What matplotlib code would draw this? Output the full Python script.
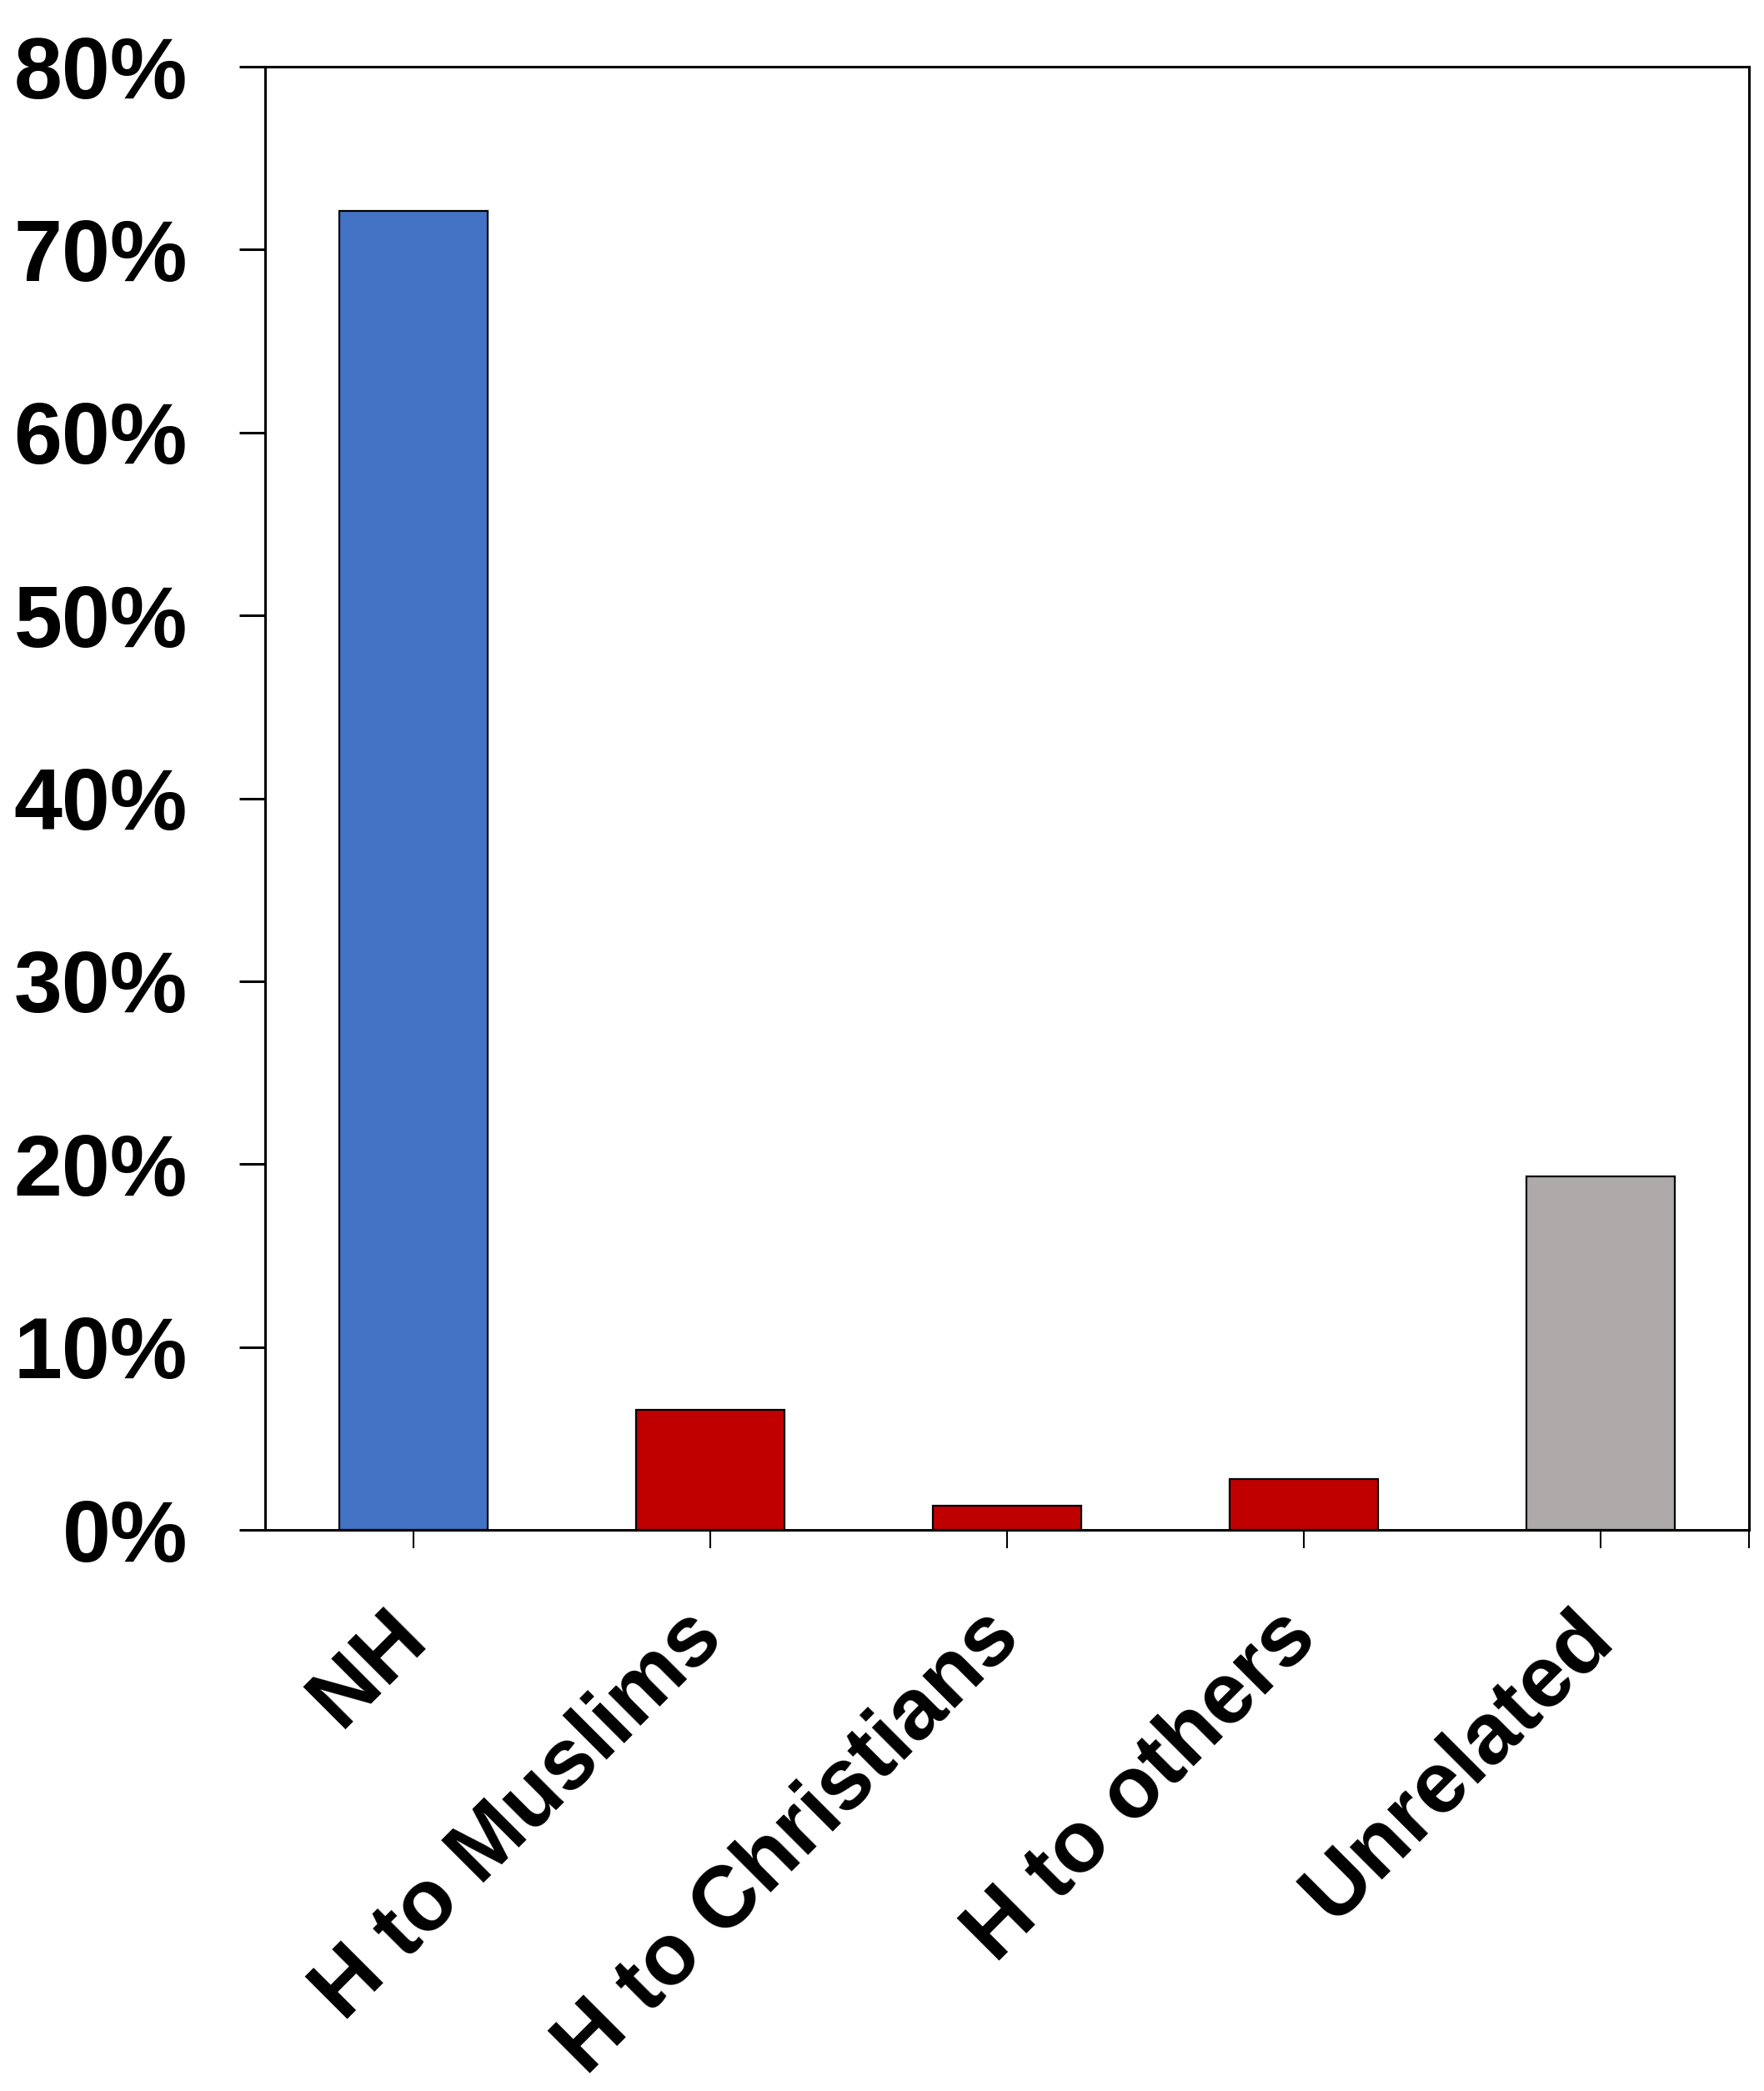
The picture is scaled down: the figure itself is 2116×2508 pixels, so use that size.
from matplotlib import pyplot as plt
from matplotlib.ticker import PercentFormatter
from matplotlib.transforms import ScaledTranslation

plt.rcParams["font.family"] = ["Liberation Sans", "DejaVu Sans"]
plt.rcParams["font.weight"] = "bold"

categories = ["NH", "H to Muslims", "H to Christians", "H to others", "Unrelated"]
values = [72.1, 6.56, 1.31, 2.77, 19.33]
colors = ["#4472C4", "#C00000", "#C00000", "#C00000", "#AEAAAA"]

fig = plt.figure(figsize=(21.16, 25.08), dpi=100)
ax = fig.add_axes([0.1503, 0.2683, 0.9915 - 0.1503, 0.9681 - 0.2683])

x = list(range(len(categories)))
ax.bar(x, values, width=0.5, color=colors, edgecolor="black", linewidth=1.6)

ax.set_xlim(-0.5, len(categories) - 0.5)
ax.set_ylim(0, 80)
ax.set_yticks(range(0, 81, 10))
ax.yaxis.set_major_formatter(PercentFormatter(decimals=0))

ax.set_xticks(x)
ax.set_xticks([len(categories) - 0.5], minor=True)
ax.set_xticklabels(categories, rotation=45, ha="right", va="center",
                   rotation_mode="anchor", fontsize=75, fontweight="bold")

# labels sit a little right of the tick
shift = ScaledTranslation(0.08, 0, fig.dpi_scale_trans)
for lbl in ax.get_xticklabels():
    lbl.set_transform(lbl.get_transform() + shift)

for s in ax.spines.values():
    s.set_linewidth(2.2)

ax.tick_params(axis="y", direction="out", length=22, width=2.2, pad=45,
               labelsize=75)
ax.tick_params(axis="x", which="both", direction="out", length=16, width=1.5,
               pad=66)

plt.savefig("out.png", dpi=100)
